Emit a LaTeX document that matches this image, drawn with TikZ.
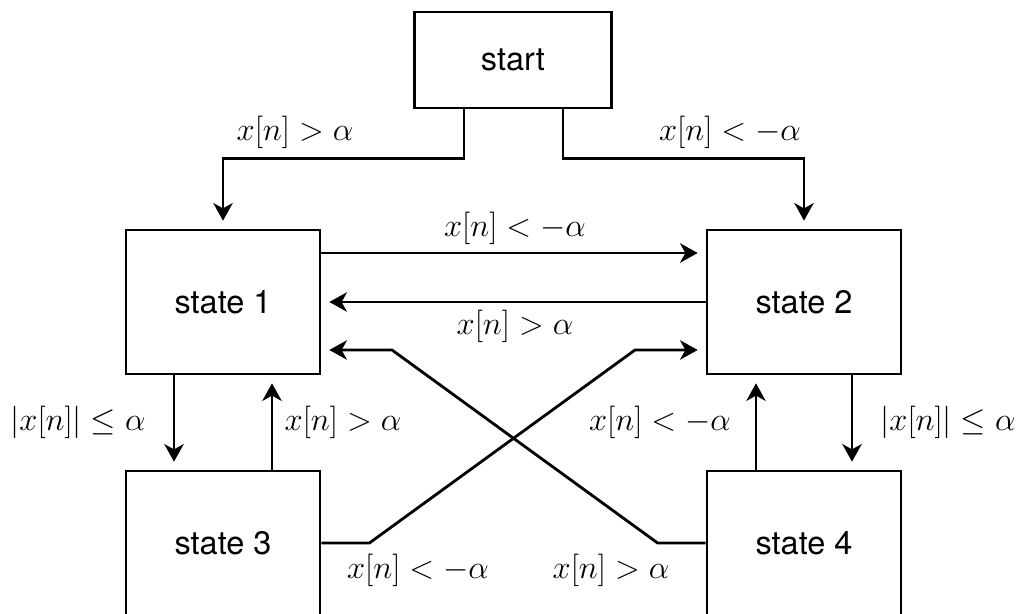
\RequirePackage{fix-cm}
\documentclass[tikz,border=0pt]{standalone}
\usepackage{fontspec}
\setsansfont{TeX Gyre Heros}
\usetikzlibrary{arrows.meta}

\begin{document}
\begin{tikzpicture}[
  box/.style={draw, line width=1.6pt, inner sep=0pt, font=\sffamily\fontsize{18.5}{22}\selectfont},
  sbox/.style={box, minimum width=3.88cm, minimum height=2.88cm},
  arr/.style={-{Stealth[length=10pt,width=11pt,inset=3pt]}, line width=1.6pt, shorten >=4.5pt},
  lab/.style={font=\fontsize{18.5}{22}\selectfont}]
\useasboundingbox (0,0) rectangle (20.46,-12.28);
\clip (0,0) rectangle (20.46,-12.28);
% states
\node[box, minimum width=3.94cm, minimum height=1.92cm] (start) at (10.26,-1.2) {start};
\node[sbox] (s1) at (4.46,-6.04) {state 1};
\node[sbox] (s2) at (16.08,-6.04) {state 2};
\node[sbox] (s3) at (4.46,-10.86) {state 3};
\node[sbox] (s4) at (16.08,-10.86) {state 4};
% from start
\draw[arr] ([xshift=-0.98cm]start.south) -- ++(0,-0.98) -| (s1.north);
\draw[arr] ([xshift=1cm]start.south) -- ++(0,-0.98) -| (s2.north);
% between state 1 and state 2
\draw[arr] ([yshift=0.98cm]s1.east) -- ([yshift=0.98cm]s2.west);
\draw[arr] (s2.west) -- (s1.east);
% up and down
\draw[arr] ([xshift=-0.98cm]s1.south) -- ([xshift=-0.98cm]s3.north);
\draw[arr] ([xshift=0.98cm]s3.north) -- ([xshift=0.98cm]s1.south);
\draw[arr] ([xshift=0.96cm]s2.south) -- ([xshift=0.96cm]s4.north);
\draw[arr] ([xshift=-0.96cm]s4.north) -- ([xshift=-0.96cm]s2.south);
% crossing
\draw[arr] (s3.east) -- ++(0.96,0) -- (12.7,-7.0) -- ([yshift=-0.96cm]s2.west);
\draw[arr] (s4.west) -- ++(-0.96,0) -- (7.84,-7.0) -- ([yshift=-0.96cm]s1.east);
% labels
\node[lab] (l1) at (5.9,-2.64) {$x[n] > \alpha$};
\node[lab] (l2) at (14.6,-2.64) {$x[n] < -\alpha$};
\node[lab] (l3) at (10.3,-4.56) {$x[n] < -\alpha$};
\node[lab] (l4) at (10.3,-6.52) {$x[n] > \alpha$};
\node[lab] (l5) at (1.56,-8.44) {$|x[n]| \leq \alpha$};
\node[lab] (l6) at (6.86,-8.44) {$x[n] > \alpha$};
\node[lab] (l7) at (13.2,-8.44) {$x[n] < -\alpha$};
\node[lab] (l8) at (18.96,-8.44) {$|x[n]| \leq \alpha$};
\node[lab] (l9) at (8.36,-11.40) {$x[n] < -\alpha$};
\node[lab] (l10) at (12.22,-11.40) {$x[n] > \alpha$};
\end{tikzpicture}
\end{document}
